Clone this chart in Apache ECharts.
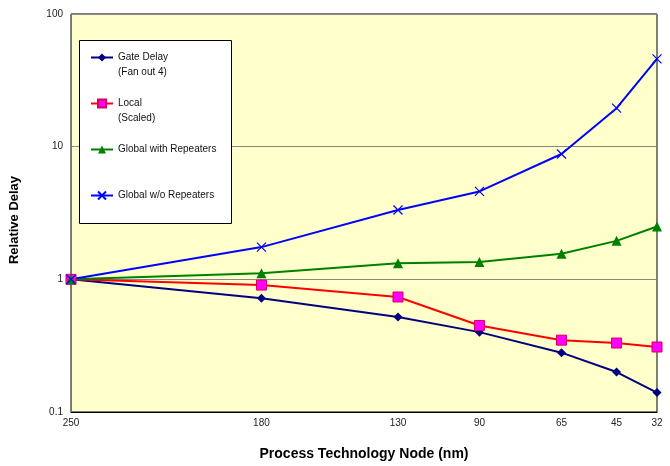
<!DOCTYPE html>
<html>
<head>
<meta charset="utf-8">
<script src="https://cdn.jsdelivr.net/npm/echarts@6/dist/echarts.min.js"></script>
<style>
  html, body { margin: 0; padding: 0; background: #fff; }
  #chart { width: 670px; height: 466px; }
</style>
</head>
<body>
<div id="chart"></div>
<script>
// process nodes (nm) and where each sits along the x axis (0 = 250nm, 100 = 32nm)
const nodes = ['250', '180', '130', '90', '65', '45', '32'];
const nodePos = [0, 32.5, 55.8, 69.7, 83.7, 93.1, 100];

const gateDelay = [1, 0.72, 0.52, 0.40, 0.28, 0.20, 0.14];
const localScaled = [1, 0.905, 0.736, 0.449, 0.348, 0.331, 0.309];
const globalRep = [1, 1.11, 1.32, 1.35, 1.56, 1.95, 2.5];
const globalNoRep = [1, 1.75, 3.33, 4.6, 8.8, 19.5, 45.9];

const yTicks = [0.1, 1, 10, 100];

const subLabels = {
  'Gate Delay': '(Fan out 4)',
  'Local': '(Scaled)',
};

const font = 'Liberation Sans, Arial, sans-serif';

function pts(vals) {
  return vals.map((v, i) => [nodePos[i], v]);
}

const chart = echarts.init(document.getElementById('chart'));

chart.setOption({
  animation: false,
  backgroundColor: '#fff',
  textStyle: { fontFamily: font },
  grid: {
    left: 67, right: 13, top: 14, bottom: 51,
    show: true,
    backgroundColor: '#ffffcc',
    borderColor: '#000',
    borderWidth: 1,
  },
  graphic: [{
    type: 'rect',
    left: 79, top: 40, z: 5,
    shape: { width: 152, height: 183 },
    style: { fill: '#fff', stroke: '#000', lineWidth: 1 },
  }],
  legend: {
    orient: 'vertical',
    left: 90, top: 35, z: 10,
    padding: 0,
    itemGap: 1,
    itemWidth: 22,
    itemHeight: 10,
    textStyle: { fontSize: 10, color: '#111', fontFamily: font, lineHeight: 15 },
    // three lines per item, name in the middle one so it sits level with the icon
    formatter: (name) => '\u00a0\n' + name + '\n' + (subLabels[name] || '\u00a0'),
    data: ['Gate Delay', 'Local', 'Global with Repeaters', 'Global w/o Repeaters'],
  },
  xAxis: {
    type: 'value',
    min: 0, max: 100,
    name: 'Process Technology Node (nm)',
    nameLocation: 'middle',
    nameGap: 35,
    nameTextStyle: { fontSize: 14, fontWeight: 'bold', color: '#000', fontFamily: font },
    axisLine: { lineStyle: { color: '#000', width: 1 } },
    axisTick: { show: false },
    splitLine: { show: false },
    axisLabel: {
      customValues: nodePos,
      formatter: (v) => nodes[nodePos.indexOf(v)],
      fontSize: 10, color: '#222', margin: 6,
    },
  },
  yAxis: {
    type: 'log',
    logBase: 10,
    min: 0.1, max: 100,
    name: 'Relative Delay',
    nameLocation: 'middle',
    nameGap: 50,
    nameTextStyle: { fontSize: 13, fontWeight: 'bold', color: '#000', fontFamily: font, padding: [0, 14, 0, 0] },
    axisLine: { show: true, lineStyle: { color: '#777', width: 1 } },
    axisTick: { show: false },
    splitLine: { show: true, lineStyle: { color: '#888', width: 1 } },
    axisLabel: {
      fontSize: 10, color: '#222', margin: 8,
      formatter: (v) => String(yTicks.find((t) => Math.abs(t - v) / t < 1e-6) ?? v),
    },
  },
  series: [
    {
      name: 'Gate Delay',
      type: 'line',
      data: pts(gateDelay),
      symbol: 'diamond',
      symbolSize: 9,
      lineStyle: { color: '#000080', width: 2 },
      itemStyle: { color: '#000080' },
    },
    {
      name: 'Local',
      type: 'line',
      data: pts(localScaled),
      symbol: 'rect',
      symbolSize: 10,
      lineStyle: { color: '#ff0000', width: 2 },
      itemStyle: { color: '#ff00ff', borderColor: '#d4005a', borderWidth: 1 },
    },
    {
      name: 'Global with Repeaters',
      type: 'line',
      data: pts(globalRep),
      symbol: 'triangle',
      symbolSize: 10,
      lineStyle: { color: '#008000', width: 2 },
      itemStyle: { color: '#008000' },
    },
    {
      name: 'Global w/o Repeaters',
      type: 'line',
      data: pts(globalNoRep),
      symbol: 'path://M0,0L10,10M0,10L10,0',
      symbolSize: 9,
      lineStyle: { color: '#0000ff', width: 2 },
      itemStyle: { color: '#0000ff', borderColor: '#0000ff', borderWidth: 1.2 },
    },
  ],
});
</script>
</body>
</html>
